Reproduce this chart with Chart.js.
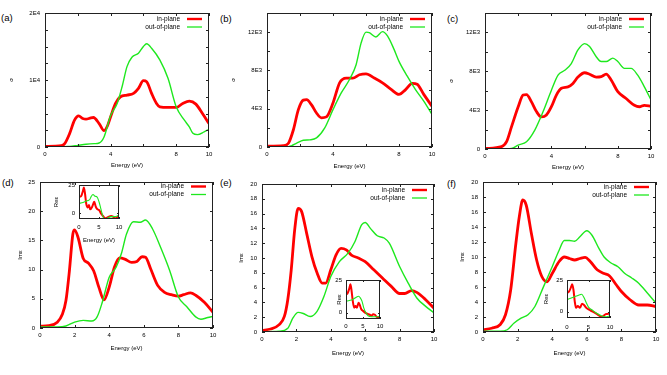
<!DOCTYPE html>
<html>
<head>
<meta charset="utf-8">
<script src="https://cdn.jsdelivr.net/npm/chart.js@4.4.1/dist/chart.umd.min.js"></script>
<style>
  body { margin: 0; width: 667px; height: 375px; background: #fff; position: relative; overflow: hidden; font-family: "Liberation Sans", Arial, sans-serif; }
  canvas { position: absolute; }
  .tag { position: absolute; font-size: 9.5px; line-height: 1; color: #000; }
</style>
</head>
<body>
<div class="tag" style="left:1px;top:13px">(a)</div>
<div class="tag" style="left:220px;top:14px">(b)</div>
<div class="tag" style="left:447px;top:14px">(c)</div>
<div class="tag" style="left:2px;top:178px">(d)</div>
<div class="tag" style="left:220px;top:178px">(e)</div>
<div class="tag" style="left:447px;top:179px">(f)</div>
<script>
// series: [energy (eV), value]
const aIn = [[0,100],[1,200],[1.2,500],[1.5,2000],[1.8,4000],[2.05,4650],[2.3,4250],[2.5,4150],[2.8,4350],[2.95,4400],[3.3,3500],[3.6,2450],[3.8,3100],[4.0,4500],[4.3,6500],[4.6,7500],[5.0,7750],[5.4,8000],[5.7,8750],[6.0,9900],[6.2,9750],[6.5,8000],[6.8,6500],[7.0,6000],[7.5,5900],[8.0,5900],[8.4,6500],[8.8,6850],[9.2,6400],[9.6,5000],[10,3500]];
const aOut = [[0,0],[1,0],[1.5,100],[2,250],[2.5,400],[3,500],[3.3,600],[3.6,1500],[4.0,4700],[4.4,6500],[4.7,9000],[5.0,12000],[5.3,13400],[5.7,14000],[6.0,15000],[6.2,15400],[6.5,14750],[7.0,13000],[7.5,10250],[8.0,6000],[8.5,4000],[8.8,3000],[9.0,2100],[9.3,1850],[9.7,2250],[10,2650]];
const bIn = [[0,100],[1,150],[1.3,400],[1.6,1800],[1.9,3900],[2.2,4900],[2.4,4950],[2.7,4400],[3.0,3550],[3.3,3050],[3.6,3150],[4.0,4600],[4.4,6700],[4.8,7200],[5.2,7200],[5.6,7550],[6.0,7650],[6.5,7200],[7.0,6700],[7.5,6050],[8.0,5500],[8.4,6000],[8.8,6650],[9.1,6550],[9.5,5500],[10,4250]];
const bOut = [[0,0],[1.2,0],[1.5,150],[1.8,400],[2.2,700],[2.6,750],[3.0,950],[3.5,2000],[4.0,3900],[4.5,5650],[5.0,7050],[5.4,8600],[5.7,10850],[6.0,12000],[6.2,11950],[6.6,11500],[7.0,12050],[7.3,11600],[7.7,10200],[8.0,8950],[8.5,7400],[9.0,6000],[9.5,4800],[10,3400]];
const cIn = [[0,50],[1,250],[1.3,750],[1.6,2300],[2.0,4350],[2.3,5550],[2.5,5600],[2.8,4850],[3.1,3850],[3.4,3300],[3.7,3500],[4.0,4350],[4.3,5550],[4.6,6250],[5.0,6400],[5.3,6750],[5.6,7400],[6.0,7850],[6.3,7700],[6.7,7400],[7.0,7450],[7.3,7700],[7.6,7100],[8.0,5900],[8.5,5200],[9.0,4500],[9.3,4350],[9.6,4500],[10,4400]];
const cOut = [[0,0],[1.3,0],[1.6,50],[2.0,400],[2.5,750],[3.0,1950],[3.5,3850],[4.0,6050],[4.4,7600],[4.8,8100],[5.2,8800],[5.6,10200],[6.0,10850],[6.3,10550],[6.7,9500],[7.0,9000],[7.3,9000],[7.7,9350],[8.0,9000],[8.4,8300],[8.8,8300],[9.2,7600],[9.6,6400],[10,5050]];
const dIn = [[0,0.3],[0.5,0.4],[1.0,1.0],[1.3,2.4],[1.5,4.7],[1.7,9.8],[1.9,16.1],[2.0,16.8],[2.2,15.5],[2.5,11.9],[2.8,11.1],[3.1,9.8],[3.4,7.0],[3.7,4.8],[4.0,7.0],[4.3,10.4],[4.6,12.0],[4.9,11.8],[5.3,11.25],[5.6,11.4],[5.9,12.2],[6.1,12.1],[6.4,10.1],[6.8,7.3],[7.2,6.1],[7.6,5.7],[8.0,5.45],[8.3,5.7],[8.7,6.0],[9.0,5.6],[9.5,4.4],[10,2.7]];
const dOut = [[0,0.2],[1.0,0.2],[1.5,0.35],[2.0,1.0],[2.5,1.3],[3.0,1.2],[3.3,1.9],[3.6,4.4],[4.0,8.7],[4.4,10.4],[4.7,12.7],[5.0,16.1],[5.4,18.2],[5.8,18.1],[6.1,18.5],[6.5,17.0],[7.0,13.6],[7.5,9.8],[8.0,5.3],[8.5,3.6],[9.0,1.9],[9.3,1.5],[9.7,1.8],[10,2.0]];
const eIn = [[0,0.22],[0.5,0.4],[1.0,1.0],[1.3,2.1],[1.5,4.4],[1.7,8.4],[1.9,13.8],[2.1,16.7],[2.3,16.3],[2.6,13.3],[2.9,10.2],[3.2,8.0],[3.5,6.6],[3.7,6.6],[4.0,8.4],[4.3,10.4],[4.6,11.3],[4.9,11.1],[5.2,10.4],[5.6,10.0],[6.0,9.5],[6.5,8.4],[7.0,7.3],[7.5,6.2],[8.0,5.2],[8.3,5.2],[8.7,5.6],[9.0,5.35],[9.5,4.4],[10,3.2]];
const eOut = [[0,0.05],[1.0,0.1],[1.5,0.5],[1.8,1.9],[2.1,2.65],[2.4,2.5],[2.8,2.1],[3.2,2.8],[3.6,4.8],[4.0,7.5],[4.5,9.5],[5.0,10.65],[5.4,12.2],[5.8,14.5],[6.0,14.8],[6.3,14.0],[6.7,13.0],[7.1,12.7],[7.4,12.0],[8.0,8.85],[8.5,6.6],[9.0,4.6],[9.5,3.5],[10,2.6]];
const fIn = [[0,0.3],[0.5,0.5],[1.0,1.0],[1.3,2.3],[1.6,5.6],[1.9,11.8],[2.1,15.4],[2.3,17.6],[2.5,16.9],[2.8,13.1],[3.1,9.6],[3.4,7.4],[3.7,6.7],[4.0,7.8],[4.4,9.4],[4.7,10.0],[5.0,9.8],[5.3,9.6],[5.6,9.8],[5.9,9.95],[6.2,9.4],[6.6,8.3],[7.0,7.8],[7.3,7.5],[7.7,6.3],[8.0,5.4],[8.5,4.3],[9.0,3.6],[9.5,3.6],[10,3.4]];
const fOut = [[0,0.1],[1.0,0.1],[1.4,0.3],[1.8,1.2],[2.2,1.85],[2.6,2.3],[3.0,3.4],[3.5,6.05],[4.0,8.7],[4.4,10.9],[4.7,12.2],[5.0,12.2],[5.3,12.1],[5.6,12.7],[6.0,13.5],[6.3,12.9],[6.7,11.15],[7.0,10.0],[7.4,9.2],[7.8,8.7],[8.2,7.8],[8.6,7.2],[9.0,6.5],[9.5,5.2],[10,3.85]];
// insets: real part Reε
const dReIn = [[0,14.5],[0.5,15],[1.0,20],[1.2,22.7],[1.5,17.5],[1.8,8.7],[2.2,5.2],[2.5,7.3],[2.8,3.5],[3.3,5.8],[3.8,10.2],[4.2,5.8],[4.6,3.5],[5.0,2.9],[5.5,0],[6.0,-2.3],[6.5,-4.4],[7.0,-3.8],[7.5,-2.9],[8.0,-2.3],[8.5,-2.9],[9.0,-4.4],[9.5,-3.8],[10,-2.3]];
const dReOut = [[0,8.7],[1,9.6],[2,11],[2.7,12.2],[3.0,14.5],[3.5,16.6],[4.0,15.1],[4.5,14.5],[5.0,10.2],[5.5,3.5],[6.0,-2.9],[6.5,-4.9],[7.0,-4.4],[8.0,-2.9],[9.0,-2.9],[10,-1.5]];
const eReIn = [[0,13.75],[0.5,15],[1.0,18.75],[1.3,21.75],[1.6,17.5],[2.0,8.75],[2.4,3.75],[2.8,5],[3.2,3.75],[3.7,7.5],[4.0,6.25],[4.5,2.5],[5.0,1.25],[6.0,-0.75],[7.0,-1.75],[7.5,-2.5],[8.0,-1.25],[8.5,-1.75],[9.0,-3.25],[9.5,-3.75],[10,-3]];
const eReOut = [[0,8.75],[1,9.25],[2,10],[3,11.75],[3.7,12.5],[4.2,11.25],[4.7,8.75],[5.2,3.75],[5.8,0],[6.5,-2.5],[7.5,-3.25],[8.5,-3.25],[9.5,-3.25],[10,-2.5]];
const fReIn = [[0,14.8],[0.5,16],[1.0,19.9],[1.2,21.7],[1.5,17.3],[1.8,8.2],[2.1,3],[2.5,4.4],[3.0,3],[3.5,6.2],[4.0,5.1],[4.5,3],[5.0,1.8],[6.0,0],[7.0,-2],[8.0,-4.1],[8.5,-3.3],[9.0,-2],[10,-1.5]];
const fReOut = [[0,9.5],[1,10.8],[2,12.1],[3,13.3],[3.4,13.8],[4.0,10.8],[4.5,6.9],[5.0,3.6],[6.0,1],[7.0,-1.5],[8.0,-3.3],[9.0,-4.1],[10,-3.3]];

// tick values
const xTicksMain = [0, 2, 4, 6, 8, 10];
const xTicksInset = [0, 5, 10];
const yTicksA = [0, 2500, 5000, 7500, 10000, 12500, 15000, 17500, 20000];
const yTicksBC = [0, 2000, 4000, 6000, 8000, 10000, 12000, 14000];
const yTicksD = [0, 5, 10, 15, 20, 25];
const yTicksEF = [0, 2, 4, 6, 8, 10, 12, 14, 16, 18, 20];
const yTicksInset = [0, 25];

const RED = '#ff0000';
const GREEN = '#1ee81e';
const FONT = '"Liberation Sans", Arial, sans-serif';
Chart.defaults.font.family = FONT;
Chart.defaults.color = '#000';

// box, inward ticks and gnuplot-style key
const frame = {
  id: 'frame',
  beforeDatasetsDraw(chart, args, opts) {
    if (!opts.fill) return;
    const a = chart.chartArea, ctx = chart.ctx;
    ctx.save();
    ctx.fillStyle = '#fff';
    ctx.fillRect(a.left, a.top, a.right - a.left, a.bottom - a.top);
    ctx.restore();
  },
  afterDatasetsDraw(chart, args, opts) {
    const { ctx, chartArea: a, scales } = chart;
    const t = opts.tick || 3;
    ctx.save();
    ctx.strokeStyle = '#222';
    ctx.lineWidth = 1;
    ctx.strokeRect(Math.round(a.left) + 0.5, Math.round(a.top) + 0.5, Math.round(a.right - a.left) - 1, Math.round(a.bottom - a.top) - 1);
    ctx.beginPath();
    scales.x.ticks.forEach(k => {
      const p = Math.round(scales.x.getPixelForValue(k.value)) + 0.5;
      ctx.moveTo(p, a.bottom); ctx.lineTo(p, a.bottom - t);
      ctx.moveTo(p, a.top); ctx.lineTo(p, a.top + t);
    });
    scales.y.ticks.forEach(k => {
      const p = Math.round(scales.y.getPixelForValue(k.value)) + 0.5;
      ctx.moveTo(a.left, p); ctx.lineTo(a.left + t, p);
      ctx.moveTo(a.right, p); ctx.lineTo(a.right - t, p);
    });
    ctx.stroke();
    if (opts.legend != null) {
      const rows = [['in-plane', RED, 2.4], ['out-of-plane', GREEN, 1.3]];
      ctx.font = '6.5px ' + FONT;
      ctx.textAlign = 'right';
      ctx.textBaseline = 'middle';
      ctx.fillStyle = '#000';
      rows.forEach((r, i) => {
        const y = a.top + opts.legend + i * 8;
        ctx.fillText(r[0], a.right - 29, y);
        ctx.strokeStyle = r[1];
        ctx.lineWidth = r[2];
        ctx.beginPath();
        ctx.moveTo(a.right - 22, y);
        ctx.lineTo(a.right - 7, y);
        ctx.stroke();
      });
    }
    ctx.restore();
  }
};

function panel(s) {
  const [l, t, r, b] = s.box;
  const padL = s.padL, padB = s.padB, padT = 8, padR = 8;
  const lh = 6 * 1.2;
  const c = document.createElement('canvas');
  c.width = r - l + padL + padR;
  c.height = b - t + padT + padB;
  c.style.left = (l - padL) + 'px';
  c.style.top = (t - padT) + 'px';
  document.body.appendChild(c);
  new Chart(c, {
    type: 'line',
    data: {
      datasets: [
        { data: s.outS.map(([x, y]) => ({ x, y })), borderColor: GREEN, borderWidth: s.inset ? 1.1 : 1.4 },
        { data: s.inS.map(([x, y]) => ({ x, y })), borderColor: RED, borderWidth: s.inset ? 2 : 2.8 }
      ].map(d => Object.assign(d, { pointRadius: 0, fill: false, cubicInterpolationMode: 'monotone' }))
    },
    options: {
      responsive: false,
      animation: false,
      events: [],
      layout: { padding: { left: 0, top: padT, right: padR, bottom: 0 } },
      plugins: {
        legend: { display: false },
        tooltip: { enabled: false },
        frame: { legend: s.legend, fill: s.inset, tick: s.inset ? 2 : 3 }
      },
      scales: {
        x: {
          type: 'linear', min: 0, max: 10,
          afterBuildTicks: sc => { sc.ticks = s.xTicks.map(v => ({ value: v })); },
          afterFit: sc => { sc.height = padB; sc.paddingLeft = 0; sc.paddingRight = 0; },
          grid: { display: false, drawTicks: false },
          border: { display: false },
          ticks: { padding: s.xTickPad, maxRotation: 0, autoSkip: false, font: { size: 6 }, callback: v => s.xLabel(v) },
          title: s.xTitleY ? { display: true, text: 'Energy (eV)', font: { size: 6 }, padding: { top: 0, bottom: b + padB - s.xTitleY - lh / 2 } } : { display: false }
        },
        y: {
          min: s.yMin, max: s.yMax,
          afterBuildTicks: sc => { sc.ticks = s.yTicks.map(v => ({ value: v })); },
          afterFit: sc => { sc.width = padL; sc.paddingTop = 0; sc.paddingBottom = 0; },
          grid: { display: false, drawTicks: false },
          border: { display: false },
          ticks: { padding: s.yTickPad, autoSkip: false, font: { size: 6 }, callback: v => s.yLabel(v) },
          title: { display: true, text: s.yTitle, font: { size: 6 }, padding: { top: s.yTitleX - (l - padL) - lh / 2, bottom: 0 } }
        }
      }
    },
    plugins: [frame]
  });
}

const xLabTop = v => (v === 2 || v === 6) ? '' : String(v);
const yLabA = v => v === 0 ? '0' : (v % 10000 === 0 ? (v / 10000) + 'E4' : '');
const yLabBC = v => v === 0 ? '0' : (v % 4000 === 0 ? (v / 1000) + 'E3' : '');
const plain = v => String(v);

const mains = [
  { box: [45, 13, 209, 147], inS: aIn, outS: aOut, yMin: 0, yMax: 20000, yTicks: yTicksA, yLabel: yLabA, xLabel: xLabTop, yTitle: 'σ', yTitleX: 11, xTitleY: 165, legend: 6 },
  { box: [267, 13, 432, 147], inS: bIn, outS: bOut, yMin: 0, yMax: 14000, yTicks: yTicksBC, yLabel: yLabBC, xLabel: xLabTop, yTitle: 'σ', yTitleX: 233, xTitleY: 166, legend: 6 },
  { box: [485, 13, 651, 149], inS: cIn, outS: cOut, yMin: 0, yMax: 14000, yTicks: yTicksBC, yLabel: yLabBC, xLabel: xLabTop, yTitle: 'σ', yTitleX: 451, xTitleY: 167, legend: 6 },
  { box: [40, 182, 213, 328], inS: dIn, outS: dOut, yMin: 0, yMax: 25, yTicks: yTicksD, yLabel: plain, xLabel: plain, yTitle: 'Imε', yTitleX: 20, xTitleY: 348, legend: 4.5 },
  { box: [262, 184, 434, 332], inS: eIn, outS: eOut, yMin: 0, yMax: 20, yTicks: yTicksEF, yLabel: plain, xLabel: plain, yTitle: 'Imε', yTitleX: 241, xTitleY: 353, legend: 6 },
  { box: [483, 182, 656, 332], inS: fIn, outS: fOut, yMin: 0, yMax: 20, yTicks: yTicksEF, yLabel: plain, xLabel: plain, yTitle: 'Imε', yTitleX: 462, xTitleY: 353, legend: 5 }
];
mains.forEach(m => panel(Object.assign({ padL: 40, padB: 26, xTicks: xTicksMain, xTickPad: 4, yTickPad: 5, inset: false }, m)));

const insets = [
  { box: [79, 185, 119, 219], inS: dReIn, outS: dReOut, yTitleX: 56, xTitleY: 240, padL: 30, padB: 26, xTickPad: 5 },
  { box: [346, 280, 380, 319], inS: eReIn, outS: eReOut, yTitleX: 339, xTitleY: null, padL: 12, padB: 14, xTickPad: 4 },
  { box: [567, 280, 610, 318], inS: fReIn, outS: fReOut, yTitleX: 546, xTitleY: null, padL: 26, padB: 16, xTickPad: 6 }
];
insets.forEach(m => panel(Object.assign({ yMin: -5, yMax: 25, yTicks: yTicksInset, xTicks: xTicksInset, yLabel: plain, xLabel: plain, yTitle: 'Reε', yTickPad: 4, inset: true }, m)));
</script>
</body>
</html>
